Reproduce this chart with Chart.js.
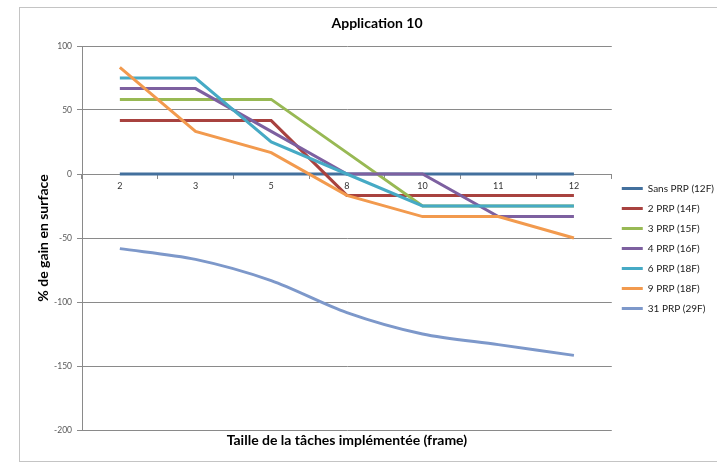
<!DOCTYPE html>
<html lang="fr">
<head>
<meta charset="utf-8">
<title>Application 10</title>
<script src="https://cdn.jsdelivr.net/npm/chart.js@4.4.1/dist/chart.umd.min.js"></script>
<style>
    html, body { margin: 0; padding: 0; background: #fff; overflow: hidden; }
    .frame { position: absolute; left: 19px; top: 7px; border: 1px solid #c4c4c4; }
    canvas { display: block; }
</style>
</head>
<body>
<div class="frame"><canvas id="gainChart" width="706" height="453"></canvas></div>
<script>
// Taille de la tâche (frames) sur l'axe des x
const tailles = ['2', '3', '5', '8', '10', '11', '12'];

// % de gain en surface pour chaque configuration
const sansPrp = [0, 0, 0, 0, 0, 0, 0];
const prp2 = [41.7, 41.7, 41.7, -16.7, -16.7, -16.7, -16.7];
const prp3 = [58.3, 58.3, 58.3, 16.7, -25, -25, -25];
const prp4 = [66.7, 66.7, 33.3, 0, 0, -33.3, -33.3];
const prp6 = [75, 75, 25, 0, -25, -25, -25];
const prp9 = [83.3, 33.3, 16.7, -16.7, -33.3, -33.3, -50];
const prp31 = [-58.3, -66.7, -83.3, -108.3, -125, -133.3, -141.7];

const nomsSeries = ['Sans PRP (12F)', '2 PRP (14F)', '3 PRP (15F)', '4 PRP (16F)', '6 PRP (18F)', '9 PRP (18F)', '31 PRP (29F)'];
const valeursSeries = [sansPrp, prp2, prp3, prp4, prp6, prp9, prp31];
const couleurs = ['#43709D', '#A8423F', '#98B954', '#7D60A0', '#46AAC5', '#F29A4E', '#7D98CA'];

const grisGrille = '#8a8a8a';
const police = 'Lato, "Liberation Sans", sans-serif';

Chart.defaults.font.family = police;

const datasets = valeursSeries.map((valeurs, i) => ({
    label: nomsSeries[i],
    data: valeurs,
    xAxisID: 'x',
    yAxisID: 'y',
    borderColor: couleurs[i],
    backgroundColor: couleurs[i],
    borderWidth: 3,
    pointRadius: 0,
    pointHoverRadius: 0,
    fill: false,
    // la dernière série est lissée
    tension: i === valeursSeries.length - 1 ? 0.3 : 0,
    // les dernières séries passent au-dessus des premières
    order: valeursSeries.length - i
}));

new Chart(document.getElementById('gainChart'), {
    type: 'line',
    data: {
        labels: tailles,
        datasets: datasets
    },
    options: {
        responsive: false,
        animation: false,
        devicePixelRatio: 1,
        layout: {
            padding: { left: 10, right: 2, top: 0, bottom: 0 }
        },
        plugins: {
            title: {
                display: true,
                text: 'Application 10',
                color: '#000',
                font: { size: 14, weight: 'bold' },
                padding: { top: 6.6, bottom: 14.6 }
            },
            legend: {
                position: 'right',
                align: 'center',
                title: {
                    display: true,
                    text: '',
                    font: { size: 10, lineHeight: 1 },
                    padding: { top: 0, bottom: 18 }
                },
                labels: {
                    usePointStyle: true,
                    pointStyle: 'line',
                    pointStyleWidth: 21,
                    padding: 10,
                    color: '#1a1a1a',
                    font: { size: 10 },
                    sort: (a, b) => a.datasetIndex - b.datasetIndex
                }
            },
            tooltip: { enabled: false }
        },
        scales: {
            x: {
                type: 'category',
                position: { y: 0 },
                offset: true,
                grid: {
                    display: true,
                    drawOnChartArea: false,
                    drawTicks: true,
                    tickLength: 4,
                    offset: true,
                    color: grisGrille
                },
                border: { display: true, color: grisGrille },
                ticks: {
                    color: '#333',
                    font: { size: 9 },
                    padding: 3,
                    maxRotation: 0
                }
            },
            x2: {
                type: 'category',
                position: 'bottom',
                offset: true,
                grid: { display: false, drawTicks: false },
                border: { display: false },
                ticks: { display: false },
                title: {
                    display: true,
                    text: 'Taille de la tâches implémentée (frame)',
                    color: '#000',
                    font: { size: 14, weight: 'bold' },
                    padding: { top: 1.6, bottom: 12.6 }
                }
            },
            y: {
                min: -200,
                max: 100,
                ticks: {
                    stepSize: 50,
                    color: '#595959',
                    font: { size: 8.5 },
                    padding: 5
                },
                grid: {
                    color: grisGrille,
                    drawTicks: true,
                    tickLength: 5
                },
                border: { display: true, color: grisGrille },
                title: {
                    display: true,
                    text: '% de gain en surface',
                    color: '#000',
                    font: { size: 14, weight: 'bold' },
                    padding: { top: 5, bottom: 0 }
                },
                afterFit: (scale) => {
                    scale.width = 52;
                }
            }
        }
    }
});
</script>
</body>
</html>
